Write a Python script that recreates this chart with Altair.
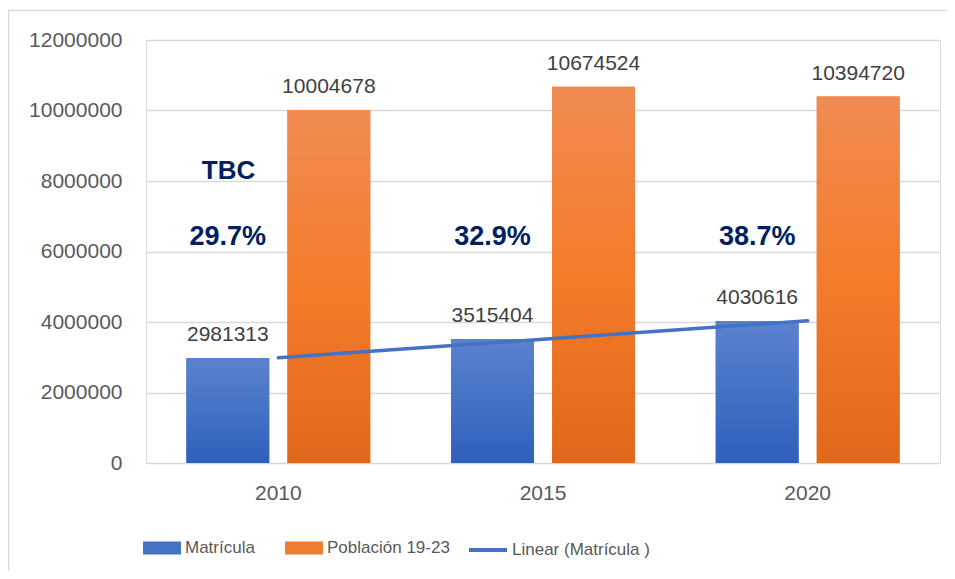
import altair as alt
import pandas as pd
import numpy as np

years = ["2010", "2015", "2020"]
matricula = [2981313, 3515404, 4030616]
poblacion = [10004678, 10674524, 10394720]
pct_labels = ["29.7%", "32.9%", "38.7%"]
series_names = ["Matrícula", "Población 19-23"]
trend_name = "Linear (Matrícula )"
y_ticks = [0, 2000000, 4000000, 6000000, 8000000, 10000000, 12000000]

BLUE = "#4472c4"
ORANGE = "#ed7d31"
NAVY = "#002060"
FONT = "Liberation Sans"

bars = pd.DataFrame(
    [{"year": y, "series": series_names[0], "value": v} for y, v in zip(years, matricula)]
    + [{"year": y, "series": series_names[1], "value": v} for y, v in zip(years, poblacion)]
)

idx = np.arange(1, len(years) + 1)
slope, intercept = np.polyfit(idx, np.array(matricula, dtype=float), 1)
trend = pd.DataFrame({"year": years, "fit": slope * idx + intercept, "series": trend_name})

pct = pd.DataFrame({"year": years, "label": pct_labels, "series": series_names[0]})
tbc = pd.DataFrame({"year": [years[0]], "label": ["TBC"], "series": [series_names[0]]})

W, H = 794, 423

x_enc = alt.X("year:N", sort=years, title=None,
              scale=alt.Scale(paddingInner=0, paddingOuter=0),
              axis=alt.Axis(labelAngle=0, ticks=False, domain=False, labelPadding=19,
                            labelFont=FONT, labelFontSize=21, labelColor="#595959"))
xo_enc = alt.XOffset("series:N", scale=alt.Scale(domain=series_names, paddingInner=0.18, paddingOuter=0.4))
y_enc = alt.Y("value:Q", title=None,
              scale=alt.Scale(domain=[0, 12000000], nice=False),
              axis=alt.Axis(values=y_ticks, format="d", ticks=False, domain=False, labelPadding=24,
                            labelFont=FONT, labelFontSize=21, labelColor="#595959",
                            gridColor="#d9d9d9", gridWidth=1.3))

base = alt.Chart(bars)

rect_path = "M-1,-0.34H1V0.34H-1Z"

legend_bars = base.mark_bar(strokeWidth=0).encode(
    x=x_enc, xOffset=xo_enc, y=y_enc,
    fill=alt.Fill("series:N", title=None,
                  scale=alt.Scale(domain=series_names, range=[BLUE, ORANGE]),
                  legend=alt.Legend(orient="none", legendX=-3, legendY=489, direction="horizontal",
                                    symbolType=rect_path, symbolSize=1444, symbolStrokeWidth=0,
                                    labelFont=FONT, labelFontSize=17, labelColor="#595959",
                                    labelOffset=4, columnPadding=30, padding=0, labelLimit=300)),
)

blue_grad = alt.Gradient(gradient="linear", x1=0, x2=0, y1=0, y2=1,
                         stops=[alt.GradientStop(color="#5b82cf", offset=0),
                                alt.GradientStop(color="#4472c4", offset=0.5),
                                alt.GradientStop(color="#2f5fbc", offset=1)])
orange_grad = alt.Gradient(gradient="linear", x1=0, x2=0, y1=0, y2=1,
                           stops=[alt.GradientStop(color="#f08b52", offset=0),
                                  alt.GradientStop(color="#f47b2a", offset=0.5),
                                  alt.GradientStop(color="#e1681a", offset=1)])

blue_bars = base.transform_filter(alt.datum.series == series_names[0]).mark_bar(
    color=blue_grad, strokeWidth=0).encode(x=x_enc, xOffset=xo_enc, y=y_enc)
orange_bars = base.transform_filter(alt.datum.series == series_names[1]).mark_bar(
    color=orange_grad, strokeWidth=0).encode(x=x_enc, xOffset=xo_enc, y=y_enc)

value_text = base.mark_text(font=FONT, fontSize=21, color="#404040", baseline="alphabetic", dy=-17).encode(
    x=x_enc, xOffset=xo_enc, y=y_enc, text=alt.Text("value:Q", format="d"))

trend_line = alt.Chart(trend).mark_line(strokeWidth=3.5, strokeCap="round").encode(
    x=alt.X("year:N", sort=years),
    y=alt.Y("fit:Q"),
    stroke=alt.Stroke("series:N", title=None,
                      scale=alt.Scale(domain=[trend_name], range=[BLUE]),
                      legend=alt.Legend(orient="none", legendX=321, legendY=489, direction="horizontal",
                                        symbolType="stroke", symbolSize=1444, symbolStrokeWidth=4,
                                        labelFont=FONT, labelFontSize=17, labelColor="#595959",
                                        labelOffset=3, padding=0, labelLimit=300)),
)

pct_text = alt.Chart(pct).mark_text(font=FONT, fontSize=27, fontWeight="bold", color=NAVY).encode(
    x=alt.X("year:N", sort=years), xOffset=alt.XOffset("series:N"), y=alt.datum(6400000), text="label:N")
tbc_text = alt.Chart(tbc).mark_text(font=FONT, fontSize=26, fontWeight="bold", color=NAVY, align="left", dx=-26).encode(
    x=alt.X("year:N", sort=years), xOffset=alt.XOffset("series:N"), y=alt.datum(8270000), text="label:N")

frame = alt.Chart(pd.DataFrame({"a": [0]})).mark_rect(fill=None, stroke="#d9d9d9", strokeWidth=1.5).encode(
    x=alt.value(-137.5), x2=alt.value(W + 20), y=alt.value(-29.5), y2=alt.value(H + 130))

chart = alt.layer(frame, legend_bars, blue_bars, orange_bars, trend_line, value_text, pct_text, tbc_text).resolve_scale(
    fill="independent", stroke="independent"
).properties(
    width=W, height=H,
    autosize=alt.AutoSizeParams(type="none"),
    padding={"left": 138, "top": 32, "right": 7, "bottom": 108},
).configure_view(stroke=None).configure(background="white")

chart.save("out.html", embed_options={"renderer": "svg", "actions": False})
